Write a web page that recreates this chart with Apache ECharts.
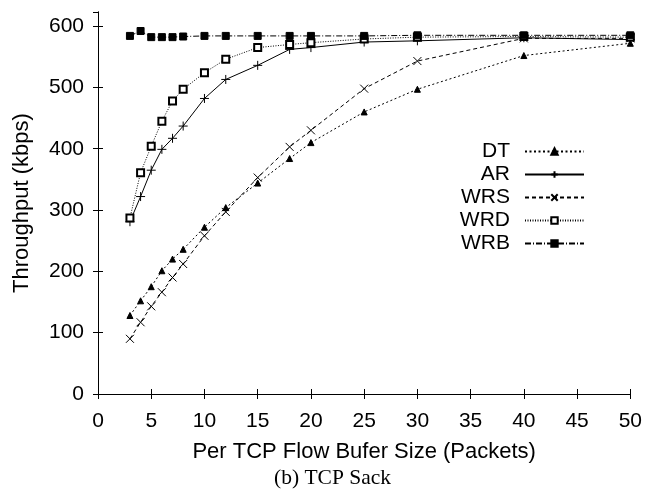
<!DOCTYPE html>
<html><head><meta charset="utf-8">
<script src="https://cdn.jsdelivr.net/npm/echarts@6/dist/echarts.min.js"></script>
<style>html,body{margin:0;padding:0;background:#fff}#c{width:645px;height:490px}</style>
</head><body><div id="c"></div>
<script>
const bufferSizes = [3, 4, 5, 6, 7, 8, 10, 12, 15, 18, 20, 25, 30, 40, 50];
const seriesNames = ['DT', 'AR', 'WRS', 'WRD', 'WRB'];
const dtValues  = [128, 152, 175, 201, 220, 236, 272, 304, 344, 384, 410, 460, 497, 552, 572];
const arValues  = [281, 322, 365, 399, 417, 437, 482, 513, 536, 562, 565, 574, 576, 581, 578];
const wrsValues = [90, 117, 143, 166, 190, 212, 258, 297, 353, 403, 430, 498, 543, 580, 580];
const wrdValues = [287, 361, 404, 445, 478, 497, 524, 546, 565, 570, 573, 579, 582, 583, 582];
const wrbValues = [584, 592, 582, 582, 582, 583, 584, 584, 584, 584, 584, 584, 585, 585, 585];
const xTitle = 'Per TCP Flow Bufer Size (Packets)';
const yTitle = 'Throughput (kbps)';
const caption = '(b) TCP Sack';

const FONT = 'Liberation Sans';
const pair = (vals) => bufferSizes.map((x, i) => [x, vals[i]]);

const styles = {
  DT:  {symbol: 'triangle', size: 6, dash: [2, 2.5]},
  AR:  {symbol: 'path://M0,5L10,5M5,0L5,10', size: 9, dash: 'solid'},
  WRS: {symbol: 'path://M0,0L10,10M10,0L0,10', size: 8, dash: [4, 3]},
  WRD: {symbol: 'emptyRect', size: 7, dash: [1, 1.5]},
  WRB: {symbol: 'rect', size: 7, dash: [6, 2, 1, 2]}
};
const valuesByName = {DT: dtValues, AR: arValues, WRS: wrsValues, WRD: wrdValues, WRB: wrbValues};

const axisCommon = {
  axisLine: {show: true, lineStyle: {color: '#000', width: 1}},
  axisTick: {show: true, inside: true, length: 5, lineStyle: {color: '#000', width: 1}},
  splitLine: {show: false}
};

const chart = echarts.init(document.getElementById('c'));
chart.setOption({
  animation: false,
  backgroundColor: '#fff',
  grid: {left: 98, right: 13, top: 12, bottom: 96},
  xAxis: [
    Object.assign({
      type: 'value', min: 0, max: 50, interval: 5, position: 'bottom',
      name: xTitle, nameLocation: 'middle', nameGap: 47,
      nameTextStyle: {fontFamily: FONT, fontSize: 22, color: '#000'},
      axisLabel: {fontFamily: FONT, fontSize: 21, color: '#000', margin: 17}
    }, axisCommon),
    Object.assign({
      type: 'value', min: 0, max: 50, interval: 5, position: 'top',
      axisLabel: {show: false}
    }, axisCommon)
  ],
  yAxis: [
    Object.assign({
      type: 'value', min: 0, max: 623, interval: 100, position: 'left',
      name: yTitle, nameLocation: 'middle', nameGap: 65,
      nameTextStyle: {fontFamily: FONT, fontSize: 22, color: '#000'},
      axisLabel: {fontFamily: FONT, fontSize: 21, color: '#000', margin: 14, showMaxLabel: false}
    }, axisCommon),
    Object.assign({
      type: 'value', min: 0, max: 623, interval: 100, position: 'right',
      axisLabel: {show: false}
    }, axisCommon)
  ],
  legend: {
    orient: 'vertical', align: 'right', right: 55, top: 136,
    itemWidth: 59, itemHeight: 8, itemGap: 2,
    textStyle: {fontFamily: FONT, fontSize: 21, color: '#000', lineHeight: 21, padding: [0, 10, 0, 0]},
    data: seriesNames
  },
  graphic: [{
    type: 'text', left: 274, top: 467,
    style: {text: caption, font: '21.5px "Liberation Serif"', fill: '#000'}
  }],
  series: seriesNames.map(name => ({
    name: name, type: 'line', xAxisIndex: 0, yAxisIndex: 0,
    data: pair(valuesByName[name]),
    symbol: styles[name].symbol, symbolSize: styles[name].size, showSymbol: true,
    lineStyle: {color: '#000', width: 1, type: styles[name].dash},
    itemStyle: {color: '#000', borderColor: '#000', borderWidth: 1},
    emphasis: {disabled: true}
  }))
});
</script>
</body></html>
